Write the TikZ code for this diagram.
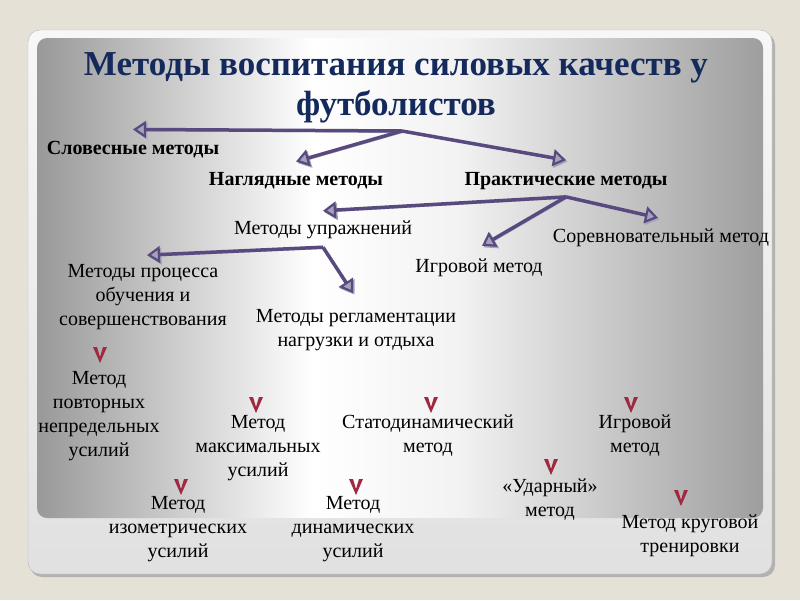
\documentclass[tikz,border=0pt]{standalone}
\usepackage{fontspec}
\setmainfont{Liberation Serif}
\usepackage{xcolor}
\usepackage{tikz}
\usetikzlibrary{arrows.meta,positioning}

\definecolor{pagebg}{HTML}{E6E1D7}
\definecolor{titleblue}{HTML}{14295C}
\definecolor{arrowvio}{HTML}{584A7E}
\definecolor{arrowshade}{HTML}{A7A2BA}
\definecolor{chevred}{HTML}{A0283F}
\pgfdeclarehorizontalshading{panelshade}{100bp}{color(0bp)=(black!40); color(25bp)=(black!40);
  color(44bp)=(white); color(54bp)=(black!5); color(75bp)=(black!38); color(100bp)=(black!38)}

\begin{document}
\begin{tikzpicture}[
  x=1pt,y=-1pt,
  every node/.style={font=\fontsize{20}{24}\selectfont,align=center,inner sep=1pt},
  head/.style={font=\bfseries\fontsize{20}{24}\selectfont},
  title/.style={font=\bfseries\fontsize{35}{40}\selectfont,text=titleblue},
  arrow/.style={-{Triangle[length=13pt,width=17pt,line width=2.2pt,fill=arrowshade]},line width=3.5pt,arrowvio,
    preaction={draw,arrowshade,transform canvas={shift={(1.5pt,-1.5pt)}}}},
  chev/.pic={\fill[chevred] (-7,-8) -- (-3,-8) -- (0,2) -- (3,-8) -- (7,-8) -- (0,8) -- cycle;}
]
% background and frame
\fill[pagebg] (0,0) rectangle (800,600);
\fill[black!30,rounded corners=12pt] (30,33) rectangle (775,577);
\shade[rounded corners=12pt,draw=black!28,top color=black!3,bottom color=black!12] (28,30) rectangle (772,574);
\shade[rounded corners=10pt,shading=panelshade] (37,38) rectangle (763,518);

\node[title] (title) at (396,88) {Методы воспитания силовых качеств у\\футболистов};

% first level
\node[head] (slov) at (133,150) {Словесные методы};
\node[head] (nagl) at (296,181) {Наглядные методы};
\node[head] (prak) at (566,181) {Практические методы};
\coordinate (hub0) at (402,131);
\draw[arrow] (hub0) -- ([yshift=11pt]slov.north);
\draw[arrow] (hub0) -- ([yshift=10pt]nagl.north);
\draw[arrow] (hub0) -- ([yshift=11pt]prak.north);

% practical methods
\node (upr) at (323,230) {Методы упражнений};
\node (igr) at (479,268) {Игровой метод};
\node (sorev) at (661,238) {Соревновательный метод};
\coordinate (hub1) at ([yshift=-6pt]prak.south);
\draw[arrow] (hub1) -- ([yshift=9pt]upr.north);
\draw[arrow] (hub1) -- ([xshift=3pt,yshift=12pt]igr.north);
\draw[arrow] (hub1) -- ([xshift=-3pt,yshift=10pt]sorev.north);

% exercise methods
\node (proc) at (143,297) {Методы процесса\\обучения и\\совершенствования};
\node (regl) at (356,330) {Методы регламентации\\нагрузки и отдыха};
\coordinate (hub2) at ([yshift=-7pt]upr.south);
\draw[arrow] (hub2) -- ([xshift=4pt,yshift=8pt]proc.north);
\draw[arrow] (hub2) -- ([xshift=-3pt,yshift=15pt]regl.north);

% methods
\node (povt) at (99,416) {Метод\\повторных\\непредельных\\усилий};
\node (maks) at (258,448) {Метод\\максимальных\\усилий};
\node (stat) at (428,436) {Статодинамический\\метод};
\node (igr2) at (635,436) {Игровой\\метод};
\node (izom) at (178,529) {Метод\\изометрических\\усилий};
\node (dinam) at (353,529) {Метод\\динамических\\усилий};
\node (udar) at (550,500) {«Ударный»\\метод};
\node (krug) at (690,536) {Метод круговой\\тренировки};

\pic at (100,355) {chev};
\pic at (256,405) {chev};
\pic at (431,405) {chev};
\pic at (631,405) {chev};
\pic at (181,487) {chev};
\pic at (356,487) {chev};
\pic at (551,467) {chev};
\pic at (681,498) {chev};
\end{tikzpicture}
\end{document}
